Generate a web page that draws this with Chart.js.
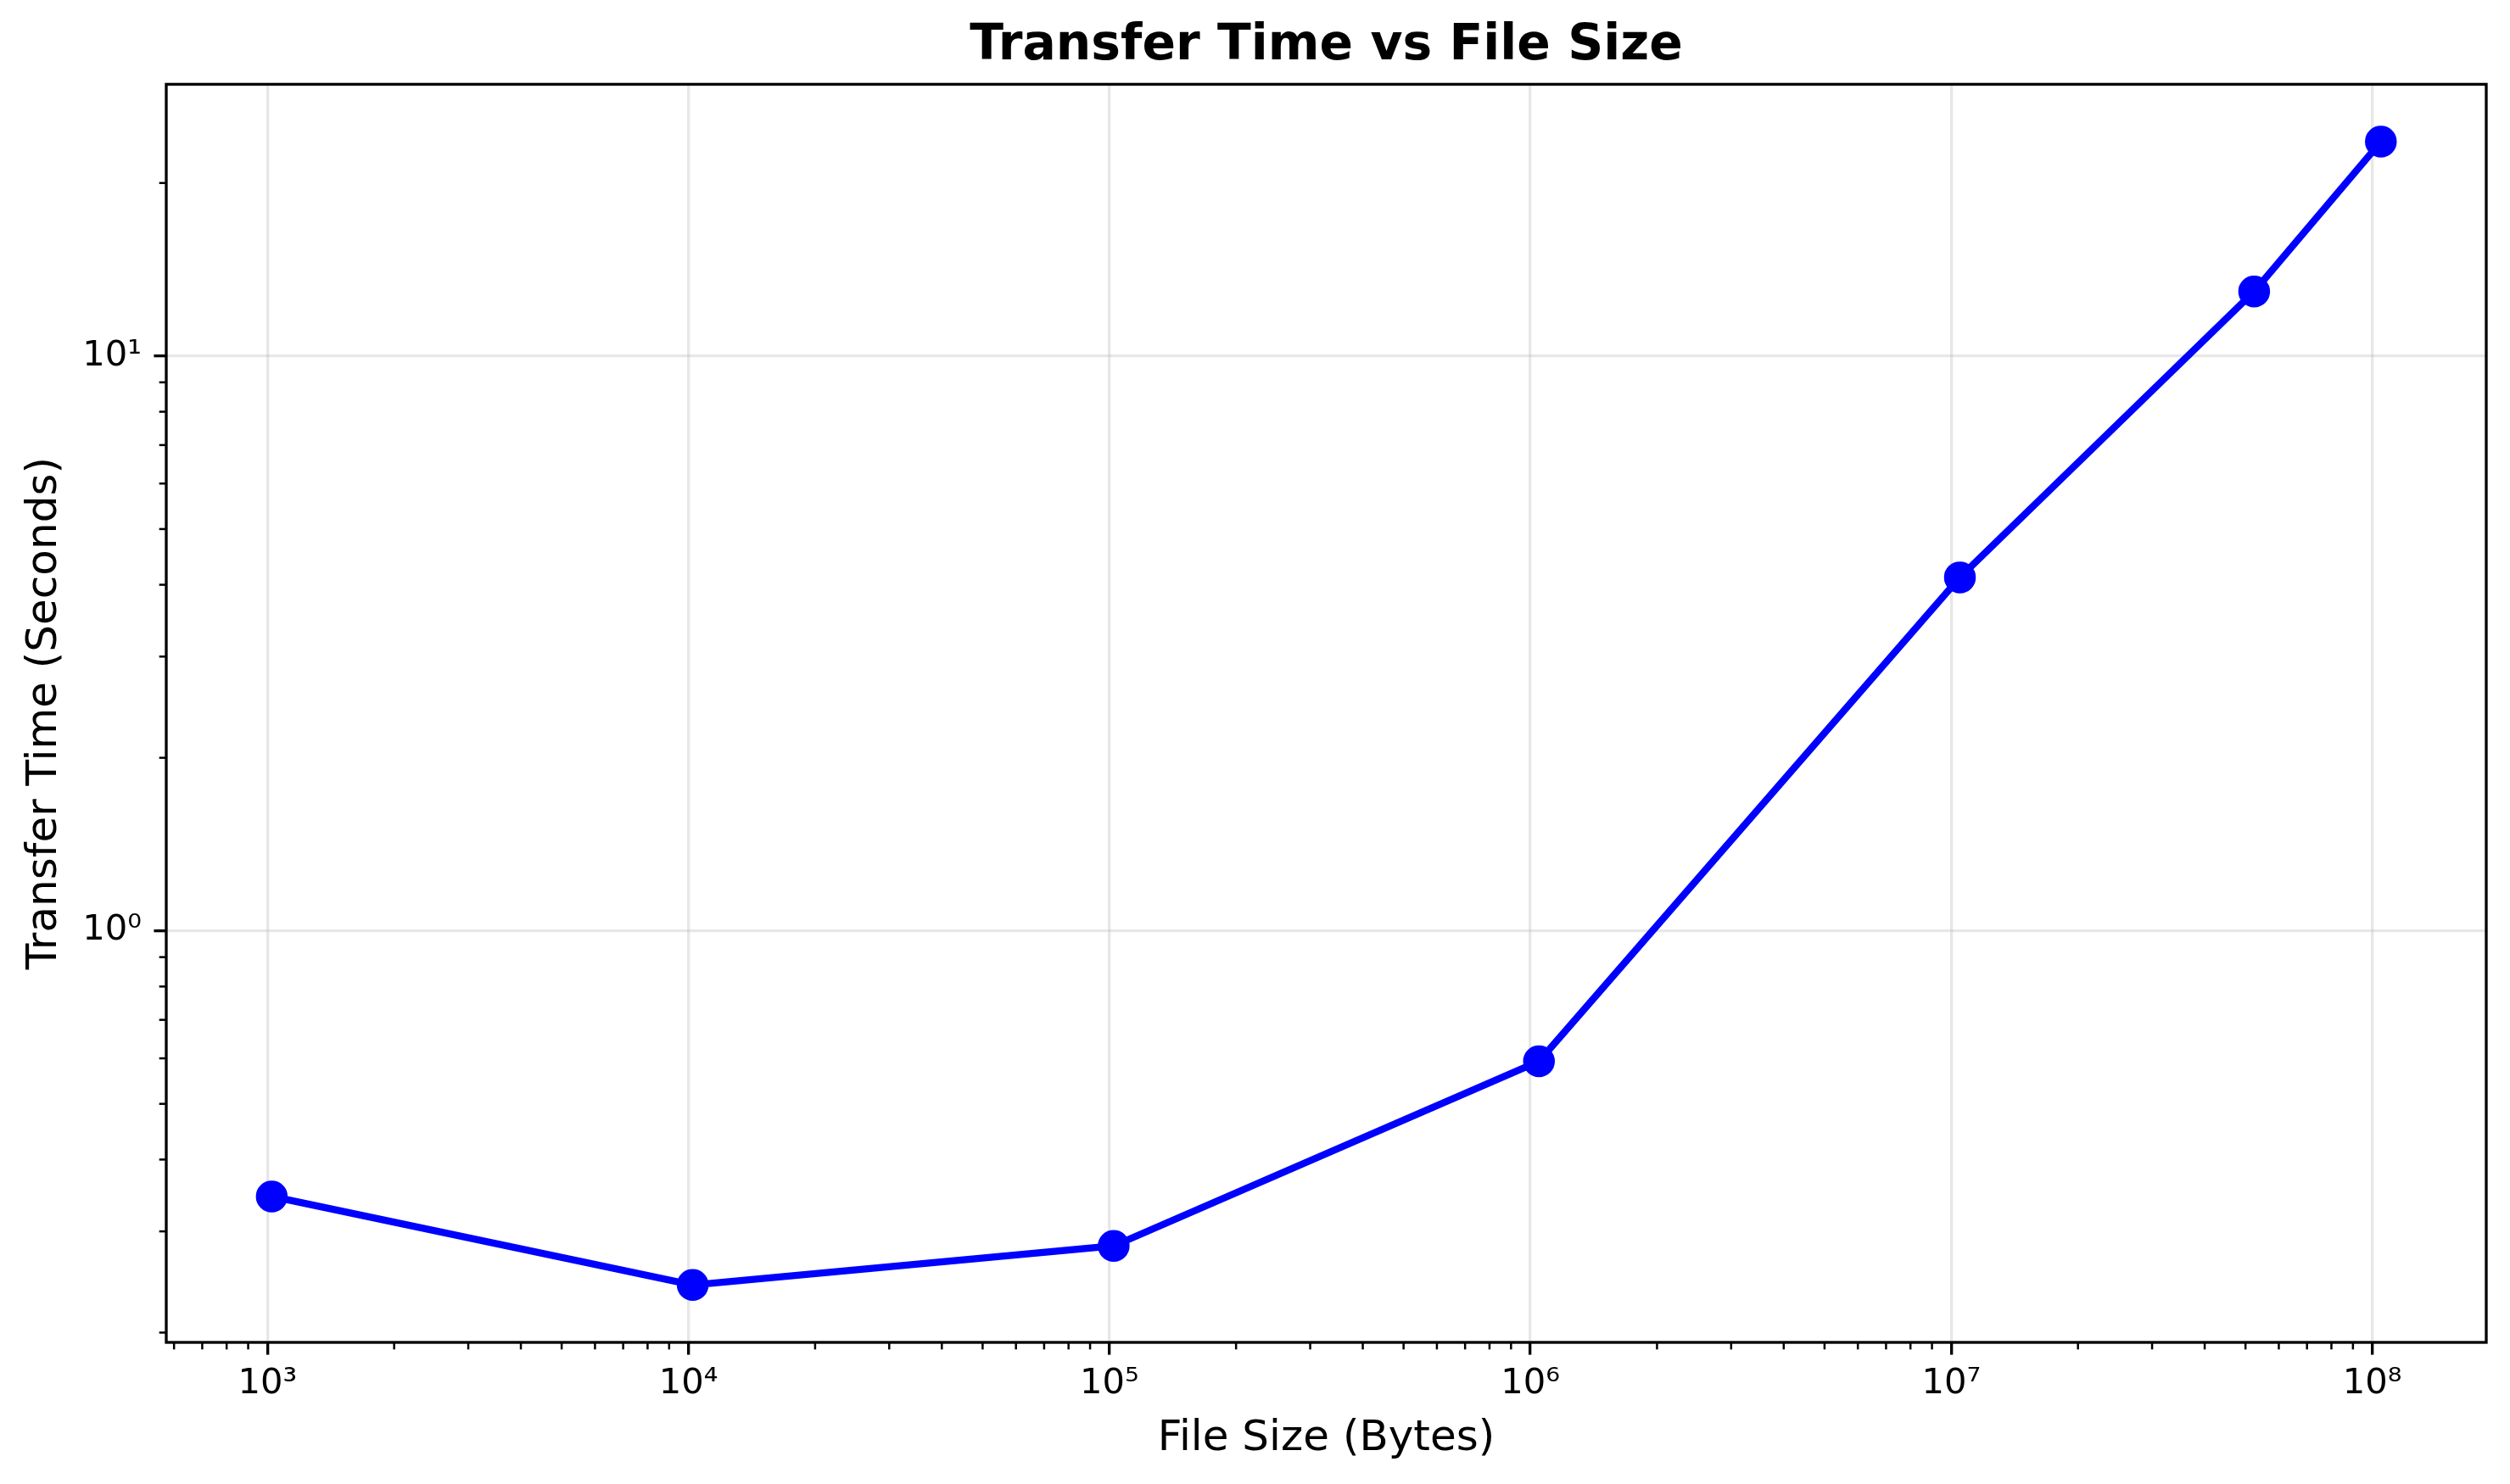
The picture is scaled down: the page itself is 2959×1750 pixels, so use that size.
<!DOCTYPE html>
<html>
<head>
<meta charset="utf-8">
<title>Transfer Time vs File Size</title>
<script src="https://cdn.jsdelivr.net/npm/chart.js@4/dist/chart.umd.min.js"></script>
<style>
  html, body { margin: 0; padding: 0; background: #fff; }
  canvas { display: block; }
</style>
</head>
<body>
<canvas id="chart-transfer" width="2959" height="1750" style="width:2959px;height:1750px"></canvas>
<script>
// file sizes in bytes (1 KB .. 100 MB) and measured transfer time in seconds
const file_sizes = [1024, 10240, 102400, 1048576, 10485760, 52428800, 104857600];
const transfer_times = [0.345, 0.242, 0.283, 0.593, 4.12, 12.95, 23.6];

// axis limits (matplotlib log autoscale with 5% margin)
const x_range = [575, 1.866e8];
const y_range = [0.1923, 29.7];

const PT = 300 / 72;
const SUP = { '0': '⁰', '1': '¹', '2': '²', '3': '³', '4': '⁴', '5': '⁵', '6': '⁶', '7': '⁷', '8': '⁸', '9': '⁹', '-': '⁻' };

function powLabel(value) {
    const e = Math.round(Math.log10(value));
    return '10' + String(e).split('').map(c => SUP[c]).join('');
}

// keep only the decades as major ticks
function decadeTicks(scale) {
    const ticks = [];
    for (let e = Math.ceil(Math.log10(scale.min)); e <= Math.floor(Math.log10(scale.max)); e++) {
        ticks.push({ value: Math.pow(10, e), major: true });
    }
    scale.ticks = ticks;
}

// minor ticks (2..9 x 10^n) and the full frame round the axes
const frameAndMinor = {
    id: 'frameAndMinor',
    afterDraw(chart) {
        const ctx = chart.ctx;
        const area = chart.chartArea;
        ctx.save();
        ctx.strokeStyle = '#000';
        ctx.lineWidth = 0.6 * PT;
        ['x', 'y'].forEach(id => {
            const s = chart.scales[id];
            const lo = Math.floor(Math.log10(s.min));
            const hi = Math.ceil(Math.log10(s.max));
            for (let e = lo; e <= hi; e++) {
                for (let k = 2; k <= 9; k++) {
                    const v = k * Math.pow(10, e);
                    if (v < s.min || v > s.max) continue;
                    const p = s.getPixelForValue(v);
                    ctx.beginPath();
                    if (id === 'x') {
                        ctx.moveTo(p, area.bottom);
                        ctx.lineTo(p, area.bottom + 2 * PT);
                    } else {
                        ctx.moveTo(area.left, p);
                        ctx.lineTo(area.left - 2 * PT, p);
                    }
                    ctx.stroke();
                }
            }
        });
        ctx.lineWidth = 0.8 * PT;
        ctx.strokeRect(area.left, area.top, area.right - area.left, area.bottom - area.top);
        ctx.restore();
    }
};

const gridStyle = {
    color: 'rgba(176, 176, 176, 0.3)',
    lineWidth: 0.8 * PT,
    drawTicks: true,
    tickLength: 3.5 * PT,
    tickWidth: 0.8 * PT,
    tickColor: '#000'
};

new Chart(document.getElementById('chart-transfer'), {
    type: 'line',
    data: {
        datasets: [{
            label: 'Transfer Time',
            data: file_sizes.map((x, i) => ({ x: x, y: transfer_times[i] })),
            borderColor: '#0000ff',
            backgroundColor: '#0000ff',
            borderWidth: 2 * PT,
            pointRadius: 4 * PT,
            pointBorderWidth: 1 * PT,
            pointBackgroundColor: '#0000ff',
            pointBorderColor: '#0000ff',
            tension: 0
        }]
    },
    plugins: [frameAndMinor],
    options: {
        responsive: false,
        devicePixelRatio: 1,
        animation: false,
        layout: {
            padding: { left: 0, right: 28, top: 0, bottom: 0 }
        },
        plugins: {
            legend: { display: false },
            tooltip: { enabled: false },
            title: {
                display: true,
                text: 'Transfer Time vs File Size',
                fullSize: false,
                color: '#000',
                font: { family: 'DejaVu Sans', size: 14 * PT, weight: 'bold' },
                padding: { top: 20, bottom: 9.4 }
            }
        },
        scales: {
            x: {
                type: 'logarithmic',
                min: x_range[0],
                max: x_range[1],
                afterBuildTicks: decadeTicks,
                afterFit: scale => { scale.height = 167; },
                grid: gridStyle,
                border: { display: false },
                ticks: {
                    color: '#000',
                    font: { family: 'DejaVu Sans', size: 10 * PT },
                    padding: 10,
                    maxRotation: 0,
                    autoSkip: false,
                    callback: powLabel
                },
                title: {
                    display: true,
                    text: 'File Size (Bytes)',
                    color: '#000',
                    font: { family: 'DejaVu Sans', size: 12 * PT },
                    padding: { top: 0, bottom: 23 }
                }
            },
            y: {
                type: 'logarithmic',
                min: y_range[0],
                max: y_range[1],
                afterBuildTicks: decadeTicks,
                afterFit: scale => { scale.width = 196; },
                grid: gridStyle,
                border: { display: false },
                ticks: {
                    color: '#000',
                    font: { family: 'DejaVu Sans', size: 10 * PT },
                    padding: 3.5 * PT,
                    autoSkip: false,
                    callback: powLabel
                },
                title: {
                    display: true,
                    text: 'Transfer Time (Seconds)',
                    color: '#000',
                    font: { family: 'DejaVu Sans', size: 12 * PT },
                    padding: { top: 23, bottom: 0 }
                }
            }
        }
    }
});
</script>
</body>
</html>
